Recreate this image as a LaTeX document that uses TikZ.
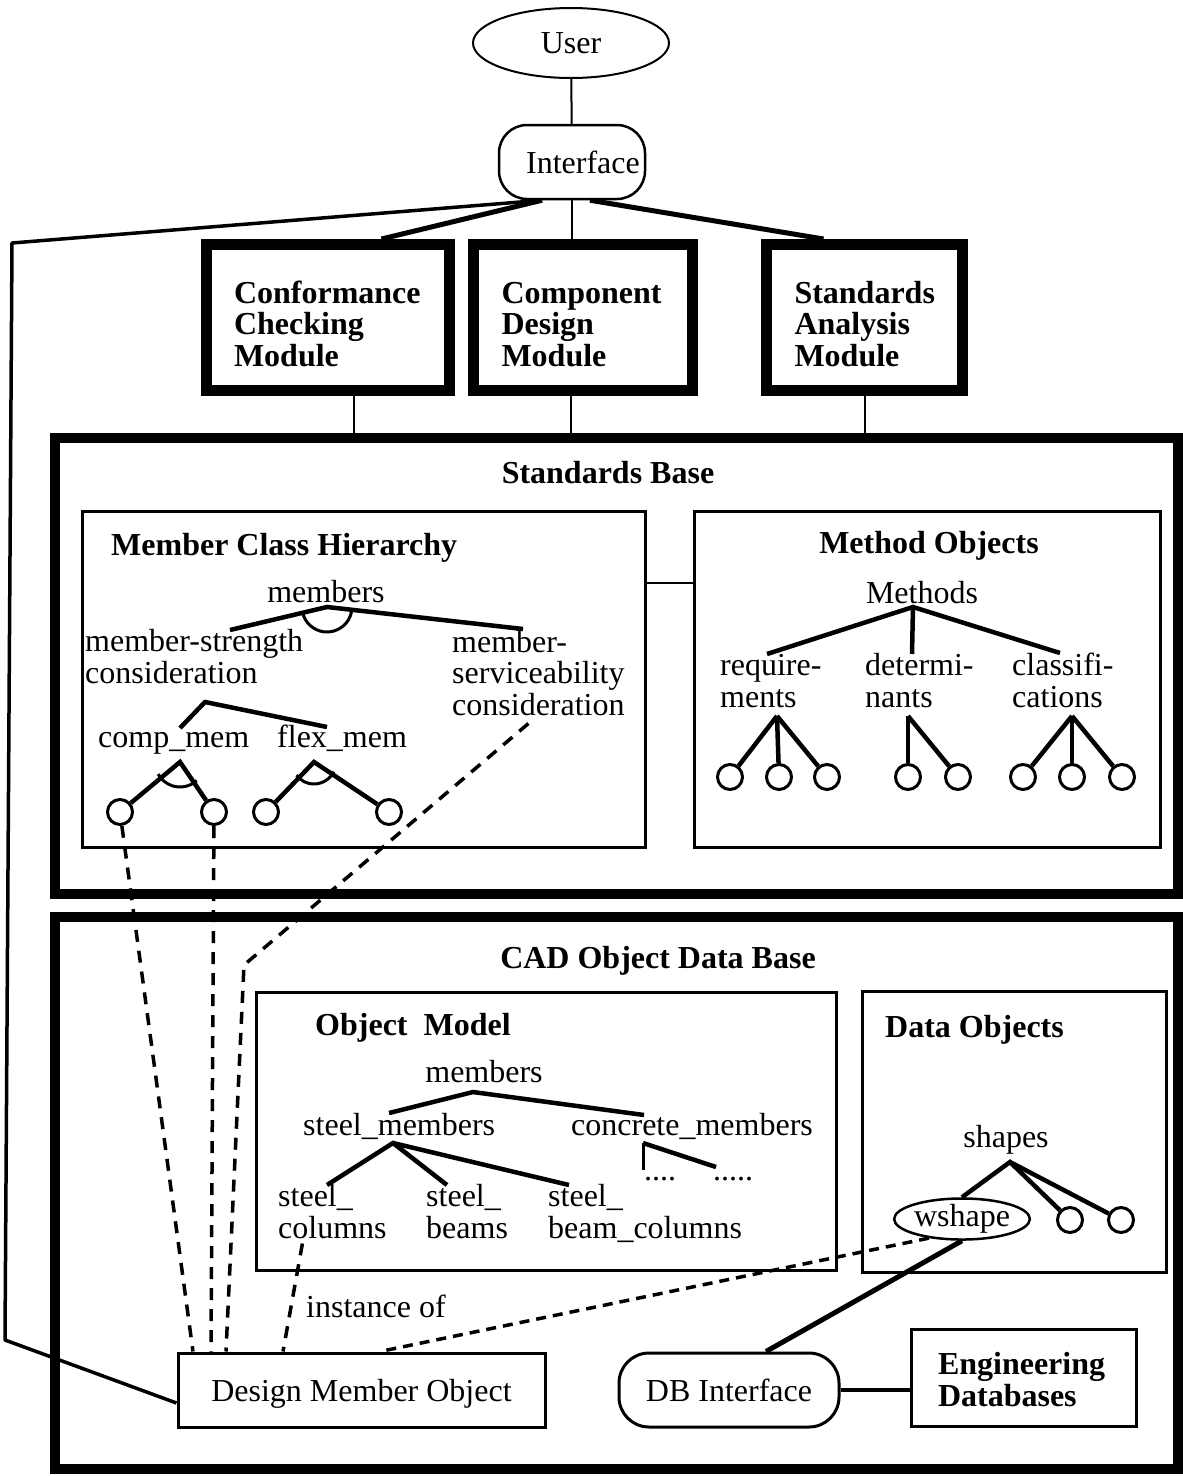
\documentclass[tikz,border=0pt]{standalone}
\usepackage{fontspec}
\setmainfont{Liberation Serif}
\usetikzlibrary{shapes.geometric}
\begin{document}
\begin{tikzpicture}[x=1pt,y=-1pt,
  every node/.style={inner sep=0pt},
  txt/.style={font=\fontsize{32}{31.5}\selectfont},
  btxt/.style={font=\fontsize{32}{31.5}\selectfont\bfseries},
  branch/.style={line width=4.5pt},
  arcline/.style={line width=3pt},
  leaf/.style={circle, draw, line width=3pt, minimum size=25pt},
  hair/.style={line width=2pt},
  heavy/.style={line width=5pt},
  link/.style={line width=3.5pt, dash pattern=on 12pt off 9pt},
  module/.style={draw, line width=11pt, minimum height=146pt, align=left, inner xsep=28pt, btxt},
  panel/.style={draw, line width=3pt},
  frame/.style={draw, line width=10pt},
]
\useasboundingbox (0,0) rectangle (1183,1476);

% ---------- top: user, interface, modules ----------
\node[ellipse, draw, line width=2pt, minimum width=196pt, minimum height=70pt, txt] (user) at (571,43) {User};
\node[draw, rounded corners=28pt, line width=2.5pt, minimum width=146pt, minimum height=74pt, txt] (iface) at (572,162) {\hspace*{22pt}Interface};
\draw[hair] (user) -- (iface);

\node[module, text width=187pt] (ccm) at (327.5,317.5) {\rule{0pt}{35pt}Conformance\\Checking\\Module};
\node[module, text width=163pt] (cdm) at (583,317.5) {\rule{0pt}{35pt}Component\\Design\\Module};
\node[module, text width=140pt] (sam) at (864.5,317.5) {\rule{0pt}{35pt}Standards\\Analysis\\Module};

\draw[heavy] ([xshift=-30pt]iface.south) -- ([xshift=54pt]ccm.north);
\draw[hair] (iface.south) -- (iface.south |- cdm.north);
\draw[heavy] ([xshift=18pt]iface.south) -- ([xshift=-41pt]sam.north);

% ---------- standards base ----------
\node[frame, minimum width=1123pt, minimum height=456pt] (sbase) at (616.5,666) {};
\node[btxt, anchor=base] (sbtitle) at (608,483) {Standards Base};

\draw[hair] ([xshift=26.5pt]ccm.south) -- ([xshift=26.5pt]ccm.south |- sbase.north);
\draw[hair] ([xshift=-12pt]cdm.south) -- ([xshift=-12pt]cdm.south |- sbase.north);
\draw[hair] ([xshift=0.5pt]sam.south) -- ([xshift=0.5pt]sam.south |- sbase.north);

% member class hierarchy
\node[panel, minimum width=563pt, minimum height=336pt] (mch) at (363.5,679) {};
\node[btxt, anchor=base west] (mchtitle) at (111,555) {Member Class Hierarchy};
\node[txt, anchor=base] (mroot) at (326,602) {members};
\node[txt, anchor=base west, align=left] (mstr) at (85,683) {member-strength\\consideration};
\node[txt, anchor=base west, align=left] (mserv) at (452,715) {member-\\serviceability\\consideration};
\node[txt, anchor=base west] (comp) at (98,747) {comp\_mem};
\node[txt, anchor=base west] (flex) at (277,747) {flex\_mem};
\node[leaf] (lA) at (120,812) {};
\node[leaf] (lB) at (214,812) {};
\node[leaf] (lC) at (266,812) {};
\node[leaf] (lD) at (389,812) {};

\coordinate (mA) at (327,607);
\coordinate (mAl) at (230,630);
\coordinate (mAr) at (523,629);
\draw[branch] (mAl) -- (mA) -- (mAr);
\draw[arcline] (mA) ++(7:25) arc[start angle=7, end angle=167, radius=25];

\coordinate (sA) at (205,702);
\coordinate (sAl) at (180,728);
\coordinate (sAr) at (327,727);
\draw[branch] (sAl) -- (sA) -- (sAr);

\coordinate (cA) at (180,762);
\draw[branch] (lA) -- (cA) -- (lB);
\draw[arcline] (cA) ++(48:25) arc[start angle=48, end angle=151, radius=25];

\coordinate (fA) at (314,762);
\draw[branch] (lC) -- (fA) -- (lD);
\draw[arcline] (fA) ++(26:22) arc[start angle=26, end angle=143, radius=22];

% method objects
\node[panel, minimum width=466pt, minimum height=336pt] (mob) at (927,679) {};
\draw[hair] ([yshift=96pt]mch.east) -- ([yshift=96pt]mob.west);
\node[btxt, anchor=base] (mobtitle) at (929,553) {Method Objects};
\node[txt, anchor=base] (methods) at (922,603) {Methods};
\node[txt, anchor=base west, align=left] (req) at (720,707) {require-\\ments};
\node[txt, anchor=base west, align=left] (det) at (865,707) {determi-\\nants};
\node[txt, anchor=base west, align=left] (cls) at (1012,707) {classifi-\\cations};
\coordinate (tA) at (913,607);
\coordinate (tAl) at (767,654);
\coordinate (tAm) at (912,654);
\coordinate (tAr) at (1060,653);
\draw[branch] (tAl) -- (tA) -- (tAr);
\draw[branch] (tA) -- (tAm);

\node[leaf] (r1) at (730,777) {};
\node[leaf] (r2) at (779,777) {};
\node[leaf] (r3) at (827,777) {};
\node[leaf] (d1) at (908,777) {};
\node[leaf] (d2) at (958,777) {};
\node[leaf] (k1) at (1023,777) {};
\node[leaf] (k2) at (1072,777) {};
\node[leaf] (k3) at (1122,777) {};
\coordinate (rA) at (777,716);
\coordinate (dA) at (908,716);
\coordinate (kA) at (1072,716);
\draw[branch] (rA) -- (r1); \draw[branch] (rA) -- (r2); \draw[branch] (rA) -- (r3);
\draw[branch] (dA) -- (d1); \draw[branch] (dA) -- (d2);
\draw[branch] (kA) -- (k1); \draw[branch] (kA) -- (k2); \draw[branch] (kA) -- (k3);

% ---------- CAD object data base ----------
\node[frame, minimum width=1123pt, minimum height=552pt] (cad) at (616.5,1193) {};
\node[btxt, anchor=base] (cadtitle) at (658,968) {CAD Object Data Base};

% object model
\node[panel, minimum width=580pt, minimum height=278pt] (om) at (546,1131) {};
\node[btxt, anchor=base west] (omtitle) at (315,1035) {Object\ \ Model};
\node[txt, anchor=base] (omroot) at (484,1082) {members};
\node[txt, anchor=base west] (steel) at (303,1135) {steel\_members};
\node[txt, anchor=base west] (conc) at (571,1135) {concrete\_members};
\node[txt, anchor=base west, align=left] (scol) at (278,1238) {steel\_\\columns};
\node[txt, anchor=base west, align=left] (sbeam) at (426,1238) {steel\_\\beams};
\node[txt, anchor=base west, align=left] (sbc) at (548,1238) {steel\_\\beam\_columns};
\node[txt, anchor=base west] (dots1) at (644,1180) {....};
\node[txt, anchor=base west] (dots2) at (713,1180) {.....};

\coordinate (oA) at (473,1092);
\coordinate (oAl) at (389,1113);
\coordinate (oAr) at (644,1115);
\draw[branch] (oAl) -- (oA) -- (oAr);
\coordinate (stA) at (393,1143);
\coordinate (stA1) at (327,1185);
\coordinate (stA2) at (447,1185);
\coordinate (stA3) at (569,1185);
\draw[branch] (stA1) -- (stA) -- (stA2);
\draw[branch] (stA) -- (stA3);
\coordinate (coA) at (643,1143);
\coordinate (coA1) at (643,1170);
\coordinate (coA2) at (716,1167);
\draw[line width=3pt] (coA1) -- (coA);
\draw[branch] (coA) -- (coA2);

% data objects
\node[panel, minimum width=304pt, minimum height=281pt] (dob) at (1014,1131.5) {};
\node[btxt, anchor=base west] (dobtitle) at (885,1037) {Data Objects};
\node[txt, anchor=base] (shapes) at (1006,1147) {shapes};
\node[ellipse, draw, line width=2.5pt, minimum width=121pt, minimum height=38pt, txt] (wshape) at (962,1219) {wshape};
\node[leaf] (s1) at (1070,1220) {};
\node[leaf] (s2) at (1121,1220) {};
\coordinate (hA) at (1010,1162);
\draw[branch] (wshape.north) -- (hA) -- (s1);
\draw[branch] (hA) -- (s2);

% lower row
\node[draw, line width=3pt, minimum width=367pt, minimum height=74pt, txt] (dmo) at (361.5,1390) {\rule{0pt}{30pt}Design Member Object};
\node[draw, rounded corners=30pt, line width=3pt, minimum width=220pt, minimum height=74pt, txt] (dbi) at (729,1390) {DB Interface};
\node[draw, line width=3pt, minimum width=225pt, minimum height=97pt, btxt, text width=171pt, inner xsep=27pt, align=left] (eng) at (1023.5,1377.5) {\rule{0pt}{26pt}Engineering\\Databases};

\draw[heavy] (wshape.south) -- ([xshift=37pt]dbi.north);
\draw[line width=4pt] (dbi.east) -- (dbi.east -| eng.west);

% ---------- links to the design member object ----------
\draw[link] (lA) -- ([xshift=-168.5pt]dmo.north);
\draw[link] (lB) -- ([xshift=-150.5pt]dmo.north);
\coordinate (bend) at (244,965);
\draw[link] ([xshift=-10pt,yshift=-8pt]mserv.south) -- (bend) -- ([xshift=-135.5pt]dmo.north);
\draw[link] ([xshift=-30pt,yshift=-5pt]scol.south) -- ([xshift=-78.5pt]dmo.north);
\node[txt, anchor=base west] (inst) at (306,1317) {instance of};
\draw[line width=3.5pt, dash pattern=on 10pt off 7pt] (wshape.210) -- ([xshift=18.5pt]dmo.north);

% interface feedback line
\coordinate (loopTop) at (12,243);
\coordinate (loopBot) at (5,1340);
\draw[line width=3.5pt, line join=round] ([xshift=-30pt]iface.south) -- (loopTop) -- (loopBot) -- ([yshift=-13pt]dmo.west);
\end{tikzpicture}
\end{document}
